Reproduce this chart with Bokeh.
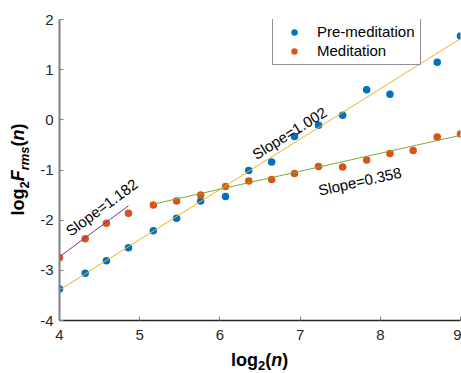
import math
from bokeh.plotting import figure
from bokeh.models import Label, Div, PrintfTickFormatter
from bokeh.layouts import row, column
from bokeh.embed import file_html
from bokeh.resources import INLINE

# ---------------- data ----------------
pre_x = [4.00, 4.32, 4.585, 4.86, 5.17, 5.46, 5.76, 6.07, 6.36, 6.645, 6.93, 7.23,
         7.53, 7.83, 8.12, 8.71, 9.00]
pre_y = [-3.37, -3.06, -2.81, -2.55, -2.21, -1.96, -1.62, -1.53, -1.01, -0.84, -0.33,
         -0.11, 0.09, 0.60, 0.51, 1.15, 1.67]

med_x = [4.00, 4.32, 4.585, 4.86, 5.17, 5.46, 5.76, 6.07, 6.36, 6.645, 6.93, 7.23,
         7.53, 7.83, 8.12, 8.41, 8.71, 9.00]
med_y = [-2.75, -2.37, -2.06, -1.86, -1.70, -1.62, -1.50, -1.33, -1.22, -1.19, -1.07,
         -0.93, -0.94, -0.80, -0.67, -0.61, -0.34, -0.28]

# linear fits: (x start, x end, y at start, slope)
fit_pre = (4.00, 9.00, -3.39, 1.002)
fit_med_short = (4.00, 4.86, -2.73, 1.182)
fit_med_long = (5.17, 9.00, -1.68, 0.358)

x_ticks = [4, 5, 6, 7, 8, 9]
y_ticks = [-4, -3, -2, -1, 0, 1, 2]
series_names = ["Pre-meditation", "Meditation"]

# ---------------- layout ----------------
W, H = 461, 373
YLAB_W = 35          # width of the y-label strip on the left
XLAB_H = 23          # height of the x-label strip at the bottom
PW, PH = W - YLAB_W, H - XLAB_H
BL, BT, BR, BB = 24, 19, 1, 30
FL, FT = YLAB_W + BL, BT          # frame origin in page pixels
FW, FH = PW - BL - BR, PH - BT - BB
X0, X1, Y0, Y1 = 4, 9, -4, 2


def px2x(px):
    return X0 + (px - FL) / FW * (X1 - X0)


def px2y(py):
    return Y1 - (py - FT) / FH * (Y1 - Y0)


FONT = "Liberation Sans"
BLUE, ORANGE = "#0072BD", "#D95319"
YELLOW, PURPLE, GREEN = "#EDB120", "#7E2F8E", "#77AC30"

p = figure(width=PW, height=PH, x_range=(X0, X1), y_range=(Y0, Y1),
           output_backend="svg", toolbar_location=None,
           min_border_left=BL, min_border_right=BR,
           min_border_top=BT, min_border_bottom=BB)
p.outline_line_color = None
p.xgrid.visible = False
p.ygrid.visible = False
p.background_fill_color = "white"
p.border_fill_color = "white"

r_pre = p.scatter(pre_x, pre_y, size=7.5, color=BLUE, line_color=None,
                  legend_label=series_names[0])
r_med = p.scatter(med_x, med_y, size=7.5, color=ORANGE, line_color=None,
                  legend_label=series_names[1])

for (xa, xb, ya, k), col in [(fit_pre, YELLOW), (fit_med_short, PURPLE),
                             (fit_med_long, GREEN)]:
    p.line([xa, xb], [ya, ya + k * (xb - xa)], line_color=col, line_width=1)

# axes
for ax in (p.xaxis, p.yaxis):
    ax.major_tick_in = 4
    ax.major_tick_out = 0
    ax.minor_tick_line_color = None
    ax.major_label_text_font = FONT
    ax.major_label_text_font_size = "15px"
    ax.major_label_text_color = "#262626"
    ax.major_tick_line_color = "#808080"
    ax.formatter = PrintfTickFormatter(format="%d")
p.xaxis.ticker = x_ticks
p.yaxis.ticker = y_ticks
p.xaxis.axis_line_color = "#262626"
p.xaxis.axis_line_width = 1.5
p.yaxis.axis_line_color = "#808080"
p.yaxis.axis_line_width = 2
p.xaxis.major_label_standoff = 9
p.yaxis.major_label_standoff = 6

# legend
lg = p.legend[0]
lg.label_text_font = FONT
lg.label_text_font_size = "15px"
lg.label_text_color = "black"
lg.padding = 5
lg.spacing = 2
lg.margin = 0
lg.glyph_width = 32
lg.glyph_height = 16
lg.label_height = 16
lg.label_standoff = 7
lg.border_line_color = "#262626"
lg.border_line_width = 1
lg.background_fill_color = "white"
lg.background_fill_alpha = 1
lg.location = (272 - FL, (FT + FH) - 19 - 46)

# slope annotations
for txt, (bx, by), k in [("Slope=1.182", (67, 232), fit_med_short[3]),
                         ("Slope=1.002", (253, 155), fit_pre[3]),
                         ("Slope=0.358", (318, 190), fit_med_long[3])]:
    ang = math.atan(k * (FH / (Y1 - Y0)) / (FW / (X1 - X0)))
    p.add_layout(Label(x=px2x(bx), y=px2y(by), text=txt, angle=ang,
                       text_font=FONT, text_font_size="15px", text_color="black",
                       text_align="left", text_baseline="alphabetic"))

# ---------------- axis titles (HTML, mixed styles) ----------------
MAIN, SUB = 18, 13
BASE = 0.8467 * MAIN      # baseline offset inside an 18px line box
AW = {"l": 0.278, "o": 0.611, "g": 0.611, "2": 0.556, "(": 0.333, ")": 0.333,
      "n": 0.611, "F": 0.611, "r": 0.389, "m": 0.889, "s": 0.556}


def width(s, size):
    return sum(AW[c] for c in s) * size


def sub(t, shift, italic=False):
    st = "italic" if italic else "normal"
    return (f'<span style="font-size:{SUB}px;font-style:{st};position:relative;'
            f'top:{shift}px;line-height:{SUB}px">{t}</span>')


box_css = (f"width:max-content;white-space:nowrap;font-family:'{FONT}';"
           f"font-weight:bold;font-size:{MAIN}px;line-height:{MAIN}px;color:#000;"
           "margin:0;padding:0;transform-origin:0 0;")

x_html = f"log{sub('2', 4)}(<i>n</i>)"
x_len = width("log(n)", MAIN) + width("2", SUB)
x_left = FL + FW / 2 - x_len / 2
x_top = (366 - PH) - BASE
xdiv = Div(text=f'<div style="{box_css}transform:translate({x_left:.1f}px,{x_top:.1f}px);">'
                f'{x_html}</div>',
           width=W, height=XLAB_H, margin=0, sizing_mode="fixed")

y_html = f"log{sub('2', 5)}<i>F</i>{sub('rms', 5, True)}(<i>n</i>)"
y_len = width("logF(n)", MAIN) + width("2rms", SUB)
y_start = FT + FH / 2 + y_len / 2
y_leftx = 24 - BASE
ydiv = Div(text=f'<div style="{box_css}transform:translate({y_leftx:.1f}px,{y_start:.1f}px) '
                f'rotate(-90deg);">{y_html}</div>',
           width=YLAB_W, height=PH, margin=0, sizing_mode="fixed")

layout = column(row(ydiv, p, spacing=0), xdiv, spacing=0)
open("out.html", "w").write(file_html(layout, INLINE))
